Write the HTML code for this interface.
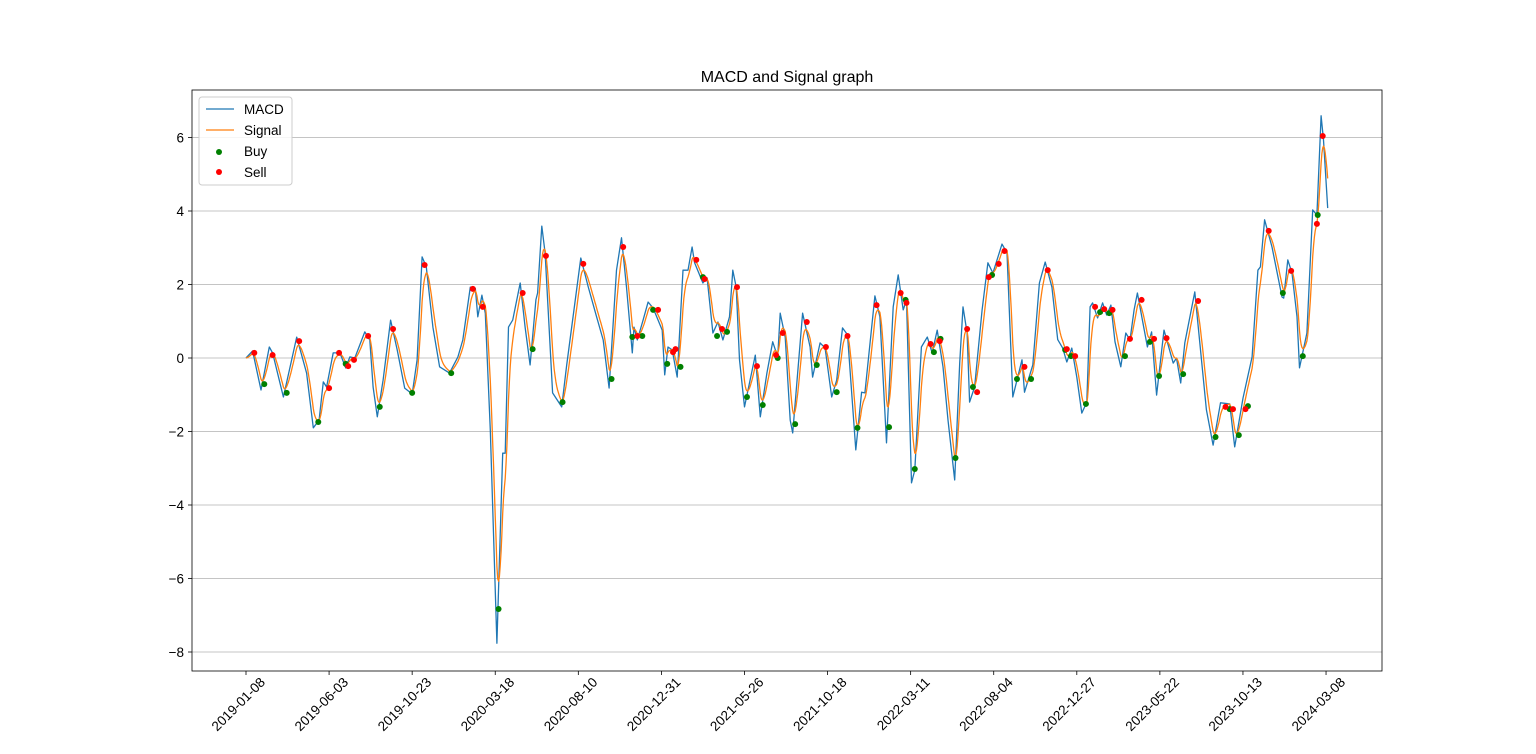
<!DOCTYPE html>
<html><head><meta charset="utf-8"><style>
html,body{margin:0;padding:0;background:#fff;}
svg{display:block;font-family:"Liberation Sans","DejaVu Sans",sans-serif;}
</style></head><body>
<svg id="chart" width="1536" height="754" viewBox="0 0 1536 754">
<text x="787" y="82" text-anchor="middle" font-size="16" fill="#000">MACD and Signal graph</text>
<g id="grid"></g>
<g id="series"></g>
<g id="axes"></g>
<g id="legend">
<rect x="199" y="97" width="93" height="88" rx="3" fill="#fff" fill-opacity="0.85" stroke="#ccc"/>
<g><line x1="206" y1="109" x2="234" y2="109" stroke="#1f77b4" stroke-width="1.3"/><text x="244" y="114" font-size="13.5">MACD</text></g>
<g><line x1="206" y1="130" x2="234" y2="130" stroke="#ff7f0e" stroke-width="1.3"/><text x="244" y="135" font-size="13.5">Signal</text></g>
<g><circle cx="219" cy="152" r="3" fill="green"/><text x="244" y="156" font-size="13.5">Buy</text></g>
<g><circle cx="219" cy="172" r="3" fill="red"/><text x="244" y="177" font-size="13.5">Sell</text></g>
</g>
</svg>
<script>
const macdDays=[0,8,18,28,32,45,61,73,81,88,93,97,105,113,120,125,131,143,149,153,158,165,174,182,191,200,206,212,217,225,233,245,255,261,270,276,279,284,288,294,302,309,312,316,321,330,336,342,349,351,356,360,369,380,386,403,412,422,430,437,446,452,458,465,467,471,478,484,490,501,504,508,513,519,526,532,537,540,550,555,562,568,574,582,586,590,594,600,613,619,627,634,640,643,649,655,658,670,679,682,691,697,705,711,718,724,734,741,745,757,763,771,779,785,791,795,801,805,813,820,826,832,839,845,853,859,863,868,871,877,886,893,899,910,916,923,934,937,947,955,962,970,977,983,988,994,1000,1006,1012,1016,1019,1025,1031,1036,1041,1046,1053,1059,1064,1069,1073,1085,1090,1096,1105,1116,1120,1125,1130,1142,1156,1164,1173,1184,1190,1200,1211,1218,1221,1226,1235,1247,1249,1254,1259,1265,1268,1277,1284,1289,1294,1297,1302];
const macdVals=[0,0.19,-0.87,0.3,0.14,-1.06,0.57,-0.41,-1.9,-1.69,-0.65,-0.79,0.14,0.14,-0.27,0.03,0,0.71,0.49,-0.79,-1.6,-0.6,1.03,0.22,-0.82,-0.98,-0.05,2.75,2.48,0.84,-0.24,-0.41,0.03,0.49,1.93,1.9,1.12,1.71,1.22,-1.96,-7.76,-2.59,-2.59,0.84,1.03,2.04,0.84,-0.19,1.58,1.77,3.59,2.86,-0.95,-1.33,-0.19,2.72,1.93,1.12,0.49,-0.82,2.39,3.27,1.93,0.14,0.84,0.49,1.03,1.52,1.36,0.76,-0.46,0.3,0.22,-0.52,2.39,2.39,3.02,2.59,2.04,2.18,0.68,0.98,0.49,1.12,2.39,1.93,-0.05,-1.33,0.08,-1.6,-0.41,0.44,0.03,1.22,0.57,-1.69,-2.04,1.22,0.3,-0.52,0.41,0.27,-1.06,-0.6,0.82,0.63,-2.5,-0.93,-0.95,1.69,1.12,-2.31,1.39,2.26,1.31,1.58,-3.4,-3.05,0.3,0.57,0.14,0.76,-0.24,-1.69,-3.32,-0.14,1.39,0.68,-1.2,-0.79,1.31,2.59,2.31,3.1,2.86,-1.06,-0.05,-0.93,-0.19,2.04,2.61,1.93,0.5,0.27,-0.11,0.27,-0.52,-1.5,-1.2,1.39,1.5,1.09,1.5,1.17,1.44,0.44,-0.24,0.68,0.49,1.31,1.77,0.3,0.71,-1.01,0.76,-0.14,0,-0.68,0.41,1.8,-1.41,-2.37,-1.22,-1.25,-2.42,-1.09,0.03,2.39,2.48,3.76,3.02,1.66,1.63,2.67,2.31,1.12,-0.27,0.68,4.03,3.89,6.59,5.93,4.08];
const buyDays=[22,49,87,120,161,200,247,304,345,381,440,465,477,490,507,523,550,567,579,603,622,640,661,687,711,736,774,794,805,828,836,854,875,898,928,945,986,993,1011,1028,1039,1058,1088,1099,1128,1167,1184,1195,1206,1248,1272,1290];
const buyVals=[-0.71,-0.95,-1.74,-0.16,-1.33,-0.95,-0.41,-6.83,0.24,-1.2,-0.57,0.57,0.6,1.31,-0.16,-0.24,2.2,0.6,0.71,-1.06,-1.28,0,-1.8,-0.19,-0.93,-1.9,-1.88,1.58,-3.02,0.16,0.52,-2.72,-0.79,2.26,-0.57,-0.57,0.22,0.05,-1.25,1.25,1.22,0.05,0.44,-0.49,-0.44,-2.15,-1.39,-2.1,-1.31,1.77,0.05,3.89];
const sellDays=[10,32,64,100,112,123,130,147,177,215,273,285,333,361,406,454,471,496,514,517,542,552,573,591,615,638,646,675,698,724,759,788,795,824,835,868,880,894,906,913,937,965,988,998,1022,1033,1043,1064,1078,1093,1108,1146,1179,1188,1203,1231,1258,1289,1296];
const sellVals=[0.14,0.08,0.46,-0.82,0.14,-0.22,-0.05,0.6,0.79,2.53,1.88,1.39,1.77,2.78,2.56,3.02,0.6,1.31,0.16,0.24,2.67,2.15,0.79,1.93,-0.22,0.08,0.68,0.98,0.3,0.6,1.44,1.77,1.5,0.38,0.46,0.79,-0.93,2.2,2.56,2.91,-0.24,2.39,0.24,0.05,1.39,1.33,1.31,0.52,1.58,0.52,0.54,1.55,-1.33,-1.39,-1.39,3.46,2.37,3.65,6.04];
const yTicks=[-8,-6,-4,-2,0,2,4,6];
const xTickDays=[0,100,200,300,400,500,600,700,800,900,1000,1100,1200,1300];
const xTickLabels=["2019-01-08","2019-06-03","2019-10-23","2020-03-18","2020-08-10","2020-12-31","2021-05-26","2021-10-18","2022-03-11","2022-08-04","2022-12-27","2023-05-22","2023-10-13","2024-03-08"];

const NS="http://www.w3.org/2000/svg";
const L=192,R=1382,T=90,B=671;
function xs(d){return 246+d*0.8308;}
function ys(v){return 358-v*36.75;}
function mk(tag,attrs,parent){const e=document.createElementNS(NS,tag);for(const k in attrs)e.setAttribute(k,attrs[k]);parent.appendChild(e);return e;}
const grid=document.getElementById('grid'),series=document.getElementById('series'),axes=document.getElementById('axes');

yTicks.forEach(v=>{
  const g=mk('line',{x1:L,x2:R,y1:ys(v),y2:ys(v),stroke:'#b0b0b0','stroke-width':0.8},grid);
  
  
  const t=mk('line',{x1:L-4,x2:L,y1:ys(v),y2:ys(v),stroke:'#000','stroke-width':0.8},axes);
  
  
  const lb=mk('text',{x:L-8,y:ys(v)+5,'text-anchor':'end','font-size':'13.5',fill:'#000'},axes);
  lb.textContent=(v<0?'\u2212'+Math.abs(v):String(v));
  
  
});
xTickDays.forEach((d,i)=>{
  const x=xs(d);
  const t=mk('line',{x1:x,x2:x,y1:B,y2:B+4,stroke:'#000','stroke-width':0.8},axes);
  
  
  const ax=x+20,ay=B+12;
  const lb=mk('text',{x:ax,y:ay,'text-anchor':'end','font-size':'13.5',fill:'#000',transform:`rotate(-45 ${ax} ${ay})`},axes);
  lb.textContent=xTickLabels[i];
  
  
});
const frame=mk('rect',{x:L,y:T,width:R-L,height:B-T,fill:'none',stroke:'#000','stroke-width':0.8},axes);



const daily=[];
for(let i=0;i<macdDays.length-1;i++){
  const d0=macdDays[i],d1=macdDays[i+1];
  for(let d=d0;d<d1;d++){daily.push(macdVals[i]+(macdVals[i+1]-macdVals[i])*(d-d0)/(d1-d0));}
}
daily.push(macdVals[macdVals.length-1]);
const alpha=2/(7+1);
const sig=[];let s=daily[0];
daily.forEach(v=>{s=alpha*v+(1-alpha)*s;sig.push(s);});

const mp=macdDays.map((d,i)=>`${xs(d).toFixed(1)},${ys(macdVals[i]).toFixed(1)}`).join(' ');
const ml=mk('polyline',{points:mp,fill:'none',stroke:'#1f77b4','stroke-width':1.3,'stroke-linejoin':'round'},series);


const sp=sig.map((v,d)=>`${xs(d).toFixed(1)},${ys(v).toFixed(1)}`).join(' ');
const sl=mk('polyline',{points:sp,fill:'none',stroke:'#ff7f0e','stroke-width':1.3,'stroke-linejoin':'round'},series);



buyDays.forEach((d,i)=>{
  const c=mk('circle',{cx:xs(d),cy:ys(buyVals[i]),r:3,fill:'green'},series);
  
  
});
sellDays.forEach((d,i)=>{
  const c=mk('circle',{cx:xs(d),cy:ys(sellVals[i]),r:3,fill:'red'},series);
  
  
});
</script>
</body></html>
